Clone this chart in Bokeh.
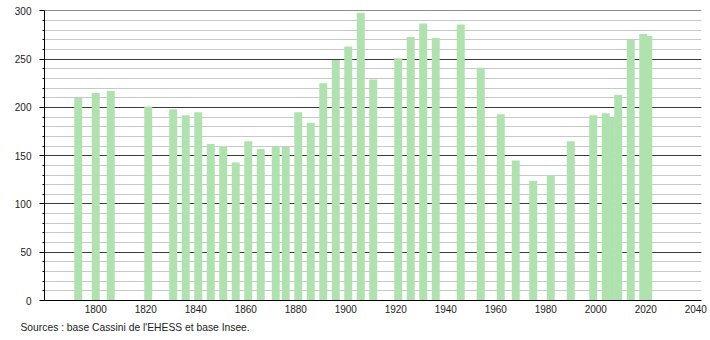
from bokeh.plotting import figure
from bokeh.models import Range1d, FixedTicker, Title, ColumnDataSource
from bokeh.embed import file_html
from bokeh.resources import INLINE

years = [1793, 1800, 1806, 1821, 1831, 1836, 1841, 1846, 1851, 1856,
         1861, 1866, 1872, 1876, 1881, 1886, 1891, 1896, 1901, 1906,
         1911, 1921, 1926, 1931, 1936, 1946, 1954, 1962, 1968, 1975,
         1982, 1990, 1999, 2004, 2006, 2009, 2014, 2019, 2021]
population = [210, 215, 217, 201, 198, 192, 195, 162, 160, 143,
              165, 157, 159, 159, 195, 184, 225, 249, 263, 298,
              229, 251, 273, 287, 272, 286, 241, 193, 145, 124,
              130, 165, 192, 194, 189, 213, 270, 276, 274]
x_ticks = list(range(1800, 2041, 20))
y_ticks = list(range(0, 301, 50))
y_minor = list(range(0, 301, 10))
source_text = "Sources : base Cassini de l'EHESS et base Insee."

src = ColumnDataSource(dict(year=years, pop=population))

p = figure(width=710, height=340, output_backend="svg", toolbar_location=None,
           x_range=Range1d(1779.5, 2042.3), y_range=Range1d(0, 300.4),
           min_border_left=44, min_border_right=9, min_border_top=10,
           min_border_bottom=40)
p.outline_line_color = None
p.background_fill_color = "white"
p.border_fill_color = "white"

p.vbar(x="year", top="pop", width=3.2, bottom=0, source=src,
       fill_color="#b0e2b0", line_color=None)

p.xgrid.visible = False
p.ygrid.ticker = FixedTicker(ticks=y_ticks, minor_ticks=y_minor)
p.ygrid.grid_line_color = "#3a3a3a"
p.ygrid.grid_line_width = 1
p.ygrid.minor_grid_line_color = "#c8c8c8"
p.ygrid.minor_grid_line_width = 1

ya = p.yaxis[0]
ya.ticker = FixedTicker(ticks=y_ticks, minor_ticks=y_minor)
ya.axis_line_color = "black"
ya.major_tick_line_color = "black"
ya.minor_tick_line_color = "black"
ya.major_tick_out = 5
ya.major_tick_in = 0
ya.minor_tick_out = 2
ya.minor_tick_in = 0
ya.major_label_text_font = "Liberation Sans"
ya.major_label_text_font_size = "10px"
ya.major_label_text_color = "#222222"
ya.major_label_standoff = 8

xa = p.xaxis[0]
xa.ticker = FixedTicker(ticks=x_ticks, minor_ticks=[])
xa.axis_line_color = "black"
xa.major_tick_out = 0
xa.major_tick_in = 0
xa.minor_tick_out = 0
xa.minor_tick_in = 0
xa.major_label_text_font = "Liberation Sans"
xa.major_label_text_font_size = "10px"
xa.major_label_text_color = "#222222"
xa.major_label_standoff = 4

note = Title(text=source_text, align="left", offset=-24, standoff=9,
             text_font="Liberation Sans", text_font_size="10.3px",
             text_font_style="normal", text_color="#222222")
p.add_layout(note, "below")

open("out.html", "w").write(file_html(p, INLINE))
